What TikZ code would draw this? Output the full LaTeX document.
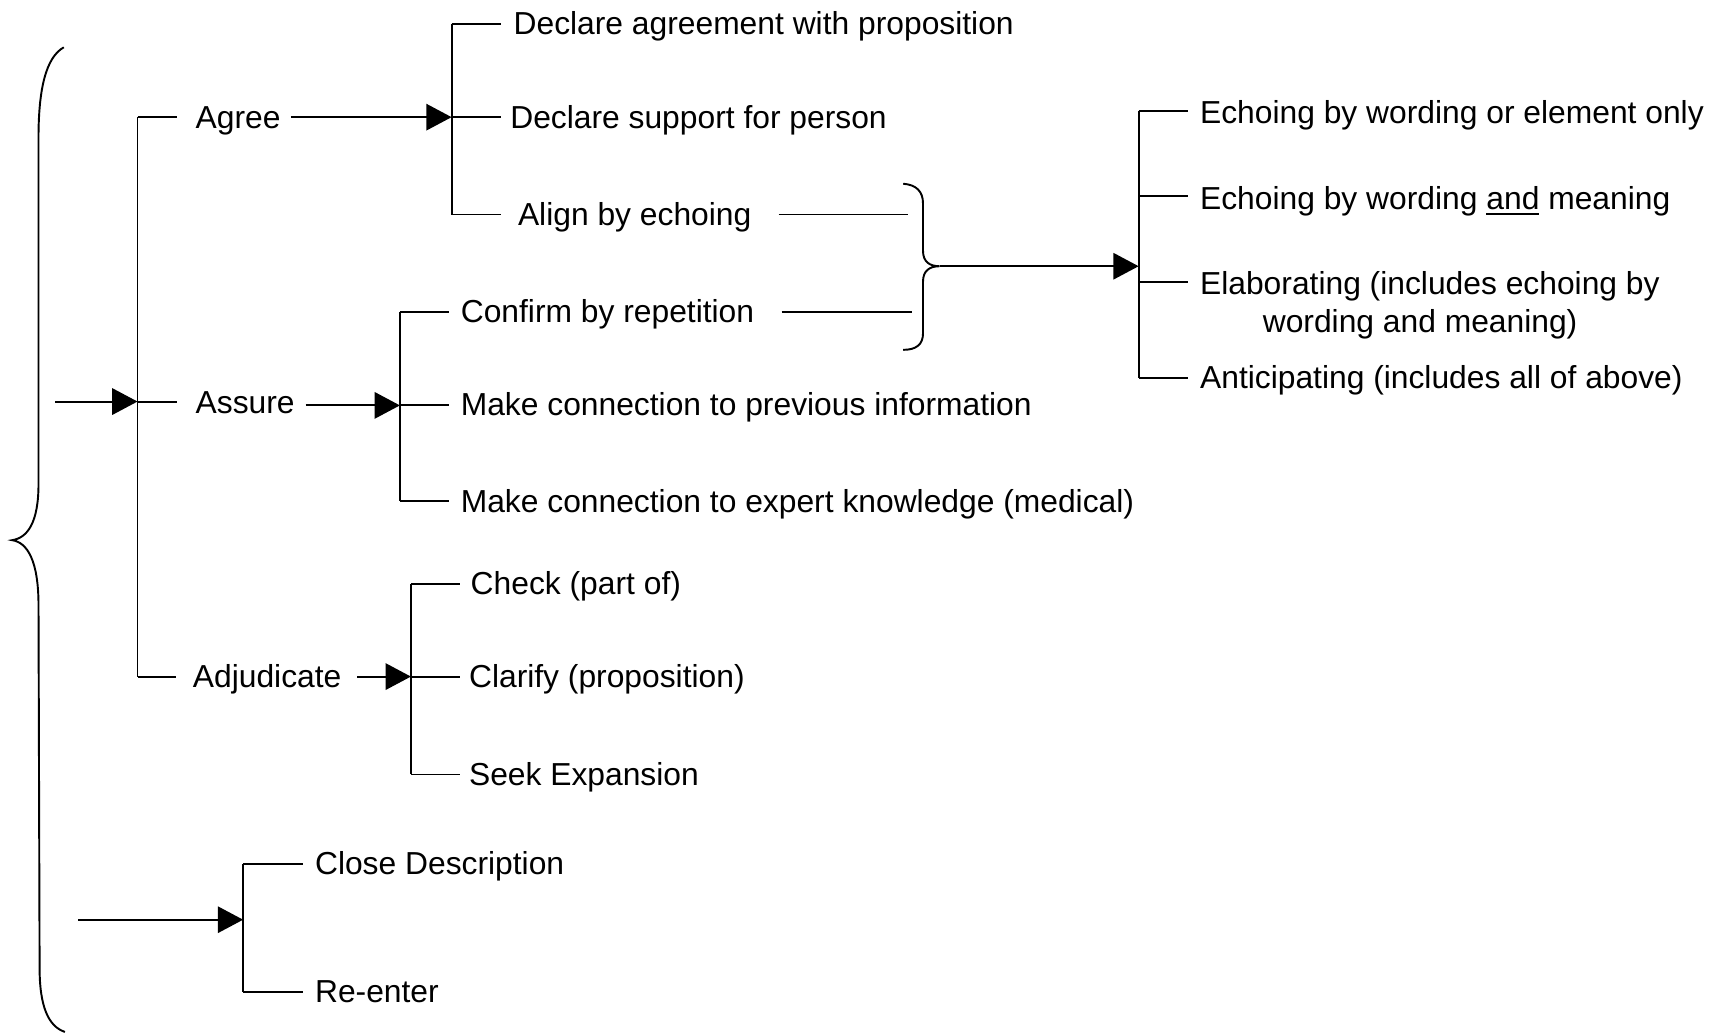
\documentclass[tikz,border=0pt]{standalone}
\usepackage{fontspec}
\setmainfont{Liberation Sans}
\usetikzlibrary{arrows.meta}
\newcommand\ulword[1]{\setbox0\hbox{#1}\rlap{\rule[-5.5pt]{\wd0}{2.2pt}}\box0\relax}
\begin{document}
\begin{tikzpicture}[x=1pt,y=-1pt,line width=1.75pt,
  txt/.style={anchor=base west,inner sep=0pt,font=\fontsize{28.9}{34}\selectfont},
  arr/.style={-{Triangle[length=23pt,width=24pt]}}]
\useasboundingbox (0,0) rectangle (1568,939);

% ---------- big left brace ----------
\draw (58,43) .. controls (42,52) and (35,80) .. (35,125) -- (35,440)
  .. controls (35,475) and (25,489) .. (11,491)
  .. controls (25,493) and (35,510) .. (35,550) -- (36,880)
  .. controls (36,915) and (44,933) .. (59,938);

% ---------- main tree ----------
\coordinate (e0) at (50,365);
\coordinate (m1) at (125,106.5);
\coordinate (m2) at (125,365);
\coordinate (m3) at (125,615);
\draw (m1) -- (m3);
\draw[arr] (e0) -- (m2);

\node[txt] (agree) at (177,117) {Agree};
\node[txt] (assure) at (177,376) {Assure};
\node[txt] (adjud) at (174.5,625) {Adjudicate};
\draw (m1) -- (m1 -| agree.west) [shorten >=16pt];
\draw (m2) -- (m2 -| assure.west) [shorten >=16pt];
\draw (m3) -- (m3 -| adjud.west) [shorten >=14.5pt];

% ---------- Agree subtree ----------
\coordinate (a1) at (410.5,21.5);
\coordinate (a2) at (410.5,106.5);
\coordinate (a3) at (410.5,195);
\draw (a1) -- (a3);
\draw[arr] (agree.east |- a2) [shorten <=8.5pt] -- (a2);
\node[txt] (dagree) at (466,31.5) {Declare agreement with proposition};
\node[txt] (dsupport) at (463,117) {Declare support for person};
\node[txt] (align) at (470,205) {Align by echoing};
\draw (a1) -- (a1 -| dagree.west) [shorten >=11pt];
\draw (a2) -- (a2 -| dsupport.west) [shorten >=8pt];
\draw (a3) -- (a3 -| align.west) [shorten >=15pt];

% ---------- Assure subtree ----------
\coordinate (s1) at (363.5,283.5);
\coordinate (s2) at (363.5,368.5);
\coordinate (s3) at (363.5,455.5);
\draw (s1) -- (s3);
\draw[arr] (assure.east |- s2) [shorten <=9pt] -- (s2);
\node[txt] (confirm) at (418,293.5) {Confirm by repetition};
\node[txt] (prev) at (418,378) {Make connection to previous information};
\node[txt] (expert) at (418,465.5) {Make connection to expert knowledge (medical)};
\draw (s1) -- (s1 -| confirm.west) [shorten >=10pt];
\draw (s2) -- (s2 -| prev.west) [shorten >=10pt];
\draw (s3) -- (s3 -| expert.west) [shorten >=10pt];

% ---------- lines into the right brace ----------
\coordinate (b1) at (825,195);
\coordinate (b2) at (829,284);
\draw (align.east |- b1) [shorten <=24pt] -- (b1);
\draw (confirm.east |- b2) [shorten <=24pt] -- (b2);

% ---------- right brace ----------
\coordinate (btip) at (854,242);
\draw (821,167) .. controls (833,168) and (839,174) .. (839,185) -- (839,228)
  .. controls (839,238) and (845,242) .. (btip)
  .. controls (845,242) and (839,246) .. (839,256) -- (839,303)
  .. controls (839,313) and (833,318) .. (821,318);

% ---------- right subtree ----------
\coordinate (r0) at (1035,242);
\coordinate (r1) at (1035,100.5);
\coordinate (r2) at (1035,178);
\coordinate (r3) at (1035,256.5);
\coordinate (r4) at (1035,344);
\draw (r1) -- (r4);
\draw[arr] (btip) -- (r0);
\node[txt] (echo1) at (1090,112) {Echoing by wording or element only};
\node[txt] (echo2) at (1090,190) {Echoing by wording \ulword{and} meaning};
\node[txt] (elab) at (1090,268) {Elaborating (includes echoing by};
\node[txt] (elab2) at (1147,302.5) {wording and meaning)};
\node[txt] (antic) at (1090,353.5) {Anticipating (includes all of above)};
\draw (r1) -- (r1 -| echo1.west) [shorten >=10pt];
\draw (r2) -- (r2 -| echo2.west) [shorten >=10pt];
\draw (r3) -- (r3 -| elab.west) [shorten >=10pt];
\draw (r4) -- (r4 -| antic.west) [shorten >=10pt];

% ---------- Adjudicate subtree ----------
\coordinate (j1) at (373.5,531);
\coordinate (j2) at (373.5,615);
\coordinate (j3) at (373.5,704);
\draw (j1) -- (j3);
\draw[arr] (adjud.east |- j2) [shorten <=13.5pt] -- (j2);
\node[txt] (check) at (427,540) {Check (part of)};
\node[txt] (clarify) at (425.5,625) {Clarify (proposition)};
\node[txt] (seek) at (425.5,714) {Seek Expansion};
\draw (j1) -- (j1 -| check.west) [shorten >=9pt];
\draw (j2) -- (j2 -| clarify.west) [shorten >=7.5pt];
\draw (j3) -- (j3 -| seek.west) [shorten >=7.5pt];

% ---------- bottom tree ----------
\coordinate (c0) at (71,836);
\coordinate (cj) at (221,836);
\coordinate (c1) at (221,785);
\coordinate (c2) at (221,901.5);
\draw (c1) -- (c2);
\draw[arr] (c0) -- (cj);
\node[txt] (close) at (285.5,795) {Close Description};
\node[txt] (reenter) at (285.5,911) {Re-enter};
\draw (c1) -- (c1 -| close.west) [shorten >=10pt];
\draw (c2) -- (c2 -| reenter.west) [shorten >=10pt];
\end{tikzpicture}
\end{document}
